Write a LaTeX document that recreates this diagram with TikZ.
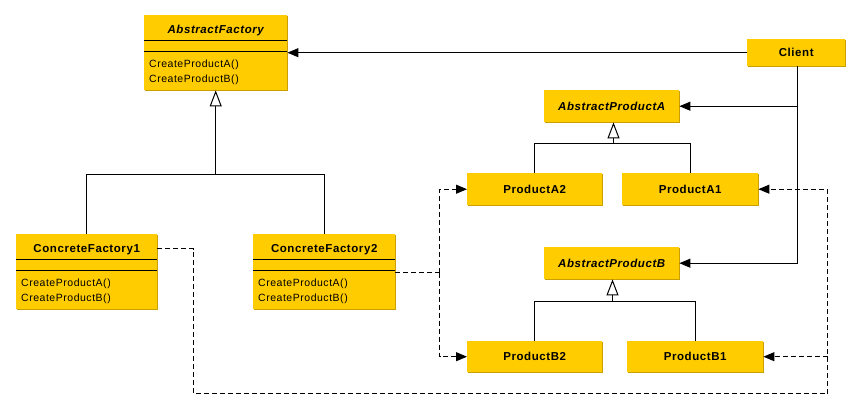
\documentclass[tikz,border=0pt]{standalone}
\usepackage{fontspec}
\setmainfont{Liberation Sans}
\newfontfamily\clsfont[LetterSpace=5]{Liberation Sans}
\usetikzlibrary{arrows.meta,calc}
\definecolor{boxfill}{HTML}{FFCC00}
\definecolor{boxedge}{HTML}{C9A000}
\tikzset{
  box/.style={fill=boxfill, inner sep=0pt, anchor=north west,
    preaction={fill=boxedge, transform canvas={xshift=1pt,yshift=-1pt}},
    text height=8pt, text depth=0pt},
  ttl/.style={font=\clsfont\fontsize{11.5}{13}\selectfont\bfseries},
  ittl/.style={font=\clsfont\fontsize{11.5}{13}\selectfont\bfseries\itshape},
  optxt/.style={font=\clsfont\fontsize{10.5}{12}\selectfont, anchor=base west, inner sep=0pt},
  titlenode/.style={anchor=base, inner sep=0pt},
  sep/.style={line width=1pt, black},
  conn/.style={line width=1pt, black},
  assoc/.style={conn, -{Triangle[length=11pt,width=9pt]}},
  inh/.style={conn, -{Triangle[open,length=16pt,width=12pt,fill=white]}},
  dep/.style={conn, dash pattern=on 5pt off 3pt},
  deparrow/.style={dep, -{Triangle[length=11pt,width=9pt]}},
}
\begin{document}
\begin{tikzpicture}[x=1pt,y=-1pt]
\useasboundingbox[fill=white] (0,0) rectangle (861,408);

% class boxes with compartments
\node[box, minimum width=143pt, minimum height=75pt] (af) at (144,15) {};
\node[box, minimum width=141pt, minimum height=75pt] (cf1) at (16,234) {};
\node[box, minimum width=142pt, minimum height=75pt] (cf2) at (253,234) {};

\foreach \b in {af,cf1,cf2}{
  \draw[sep] ($(\b.north west)+(0,25.5)$) -- ($(\b.north east)+(0,25.5)$);
  \draw[sep] ($(\b.north west)+(0,36.5)$) -- ($(\b.north east)+(0,36.5)$);
}

\node[titlenode, ittl] (aft) at ($(af.north)+(0,18)$) {AbstractFactory};
\node[optxt] (afo1) at ($(af.north west)+(5,52.5)$) {CreateProductA()};
\node[optxt] (afo2) at ($(af.north west)+(5,67.5)$) {CreateProductB()};

\node[titlenode, ttl] (cf1t) at ($(cf1.north)+(0,18)$) {ConcreteFactory1};
\node[optxt] (cf1o1) at ($(cf1.north west)+(5,52.5)$) {CreateProductA()};
\node[optxt] (cf1o2) at ($(cf1.north west)+(5,67.5)$) {CreateProductB()};

\node[titlenode, ttl] (cf2t) at ($(cf2.north)+(0,18)$) {ConcreteFactory2};
\node[optxt] (cf2o1) at ($(cf2.north west)+(5,52.5)$) {CreateProductA()};
\node[optxt] (cf2o2) at ($(cf2.north west)+(5,67.5)$) {CreateProductB()};

% simple boxes
\node[box, ttl, minimum width=98pt, minimum height=27pt] (client) at (747,39) {Client};
\node[box, ittl, minimum width=135pt, minimum height=32pt] (apa) at (544,90) {AbstractProductA};
\node[box, ttl, minimum width=135pt, minimum height=32pt] (pa2) at (467,173) {ProductA2};
\node[box, ttl, minimum width=136pt, minimum height=32pt] (pa1) at (622,173) {ProductA1};
\node[box, ittl, minimum width=135pt, minimum height=32pt] (apb) at (544,247) {AbstractProductB};
\node[box, ttl, minimum width=135pt, minimum height=31pt] (pb2) at (467,341) {ProductB2};
\node[box, ttl, minimum width=136pt, minimum height=31pt] (pb1) at (627,341) {ProductB1};

% inheritance: factories
\coordinate (afj) at (af.south |- 0,174.5);
\draw[conn] (cf1.north) |- (afj) -| (cf2.north);
\draw[inh] (afj) -- (af.south);

% inheritance: products A
\coordinate (apaj) at (613.5,143.5);
\draw[conn] (pa2.north) |- (apaj) -| (pa1.north);
\draw[inh] (apaj) -- (apaj |- apa.south);

% inheritance: products B
\coordinate (apbj) at (612.5,301.5);
\draw[conn] (pb2.north) |- (apbj) -| (pb1.north);
\draw[inh] (apbj) -- (apbj |- apb.south);

% client associations
\draw[assoc] (client.west) -- (client.west -| af.east);
\coordinate (cl) at (797.5,66);
\draw[assoc] (cl) |- (apb.east);
\draw[assoc] (cl |- apa.east) -- (apa.east);

% dependencies from ConcreteFactory2
\coordinate (d2) at ($(cf2.north east)+(0,38.5)$);
\coordinate (d2v) at (439.5,272.5);
\draw[dep] (d2) -- (d2v);
\draw[deparrow] (d2v) |- (pa2.west);
\draw[deparrow] (d2v) |- (pb2.west);

% dependencies from ConcreteFactory1
\coordinate (d1) at ($(cf1.north east)+(0,14.5)$);
\coordinate (d1a) at (193.5,248.5);
\coordinate (d1b) at (193.5,393.5);
\coordinate (d1c) at (827.5,393.5);
\draw[dep] (d1) -- (d1a) -- (d1b) -- (d1c);
\draw[deparrow] (d1c) |- (pa1.east);
\draw[deparrow] (d1c |- pb1.east) -- (pb1.east);
\end{tikzpicture}
\end{document}
